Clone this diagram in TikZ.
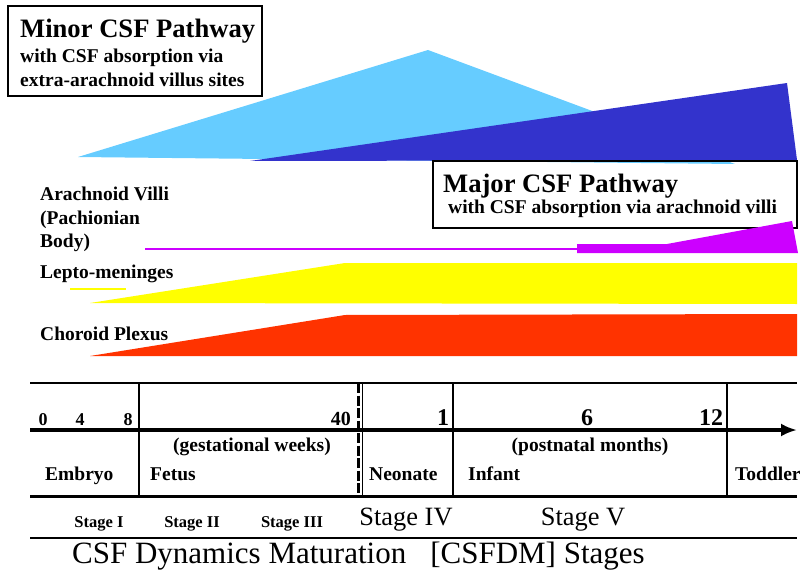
\documentclass[tikz,border=0pt]{standalone}
\usepackage{fontspec}
\setmainfont{Liberation Serif}
\usetikzlibrary{arrows.meta}

\definecolor{skyblue}{HTML}{66CCFF}
\definecolor{deepblue}{HTML}{3333CC}
\definecolor{villi}{HTML}{CC00FF}
\definecolor{lepto}{HTML}{FFFF00}
\definecolor{plexus}{HTML}{FF3300}

\tikzset{
  bigtitle/.style={anchor=base west, font=\fontsize{26.6}{30}\selectfont\bfseries},
  lbl/.style={anchor=base west, font=\fontsize{19.5}{22}\selectfont\bfseries},
  tick/.style={anchor=base, font=\fontsize{18}{20}\selectfont\bfseries},
  bigtick/.style={anchor=base, font=\fontsize{24}{26}\selectfont\bfseries},
  smallstage/.style={anchor=base, font=\fontsize{16.5}{18}\selectfont\bfseries},
  stage/.style={anchor=base, font=\fontsize{26.4}{30}\selectfont},
}

\begin{document}
\begin{tikzpicture}[x=1pt,y=-1pt]
  \tikzstyle{every node}+=[inner sep=0pt]
  \useasboundingbox (0,0) rectangle (802,572);
  % pathways
  \fill [skyblue] (78,157) -- (428,50) -- (735,164) -- cycle;
  \fill [deepblue] (250,161) -- (787,83) -- (797,160) -- cycle;
  \draw [line width=1.5pt] (8,6) rectangle (262,96);
  \node (minor) at (20,37.5) [bigtitle] {Minor CSF Pathway};
  \node (minora) at (20,63) [lbl] {with CSF absorption via};
  \node (minorb) at (20,87) [lbl] {extra-arachnoid villus sites};
  \draw [line width=1.5pt] (433,161) rectangle (797,228);
  \node (major) at (443,193) [bigtitle] {Major CSF Pathway};
  \node (majora) at (448,213) [lbl] {with CSF absorption via arachnoid villi};
  % tissues
  \draw [villi, line width=1.5pt] (145,249) -- (577,249);
  \fill [villi] (577,244) -- (667,244) -- (792,221) -- (798,253) -- (577,253) -- cycle;
  \draw [lepto, line width=1.5pt] (70,289) -- (126,289);
  \fill [lepto] (90,303) -- (345,263) -- (797,263) -- (797,304) -- cycle;
  \fill [plexus] (90,356) -- (345,315) -- (797,314) -- (797,356) -- cycle;
  \node (av) at (40,200) [lbl] {Arachnoid Villi};
  \node (pach) at (40,224) [lbl] {(Pachionian};
  \node (body) at (40,247) [lbl] {Body)};
  \node (lm) at (40,278) [lbl] {Lepto-meninges};
  \node (cp) at (40,340) [lbl] {Choroid Plexus};
  % time line
  \draw [line width=1.5pt] (30,383) -- (797,383);
  \draw [line width=3.5pt, -{Latex[length=16pt,width=13pt]}] (30,430) -- (797,430);
  \draw [line width=3pt] (30,496) -- (797,496);
  \draw [line width=1.5pt] (30,538) -- (797,538);
  \foreach \x in {139,453,727}
    \draw [line width=1.5pt] (\x,383) -- (\x,496);
  \draw [line width=3pt, dash pattern=on 10pt off 2.5pt] (358,383) -- (358,498);
  \draw [line width=0.8pt] (362,383) -- (362,498);
  \node (t0) at (43,425) [tick] {0};
  \node (t4) at (80,425) [tick] {4};
  \node (t8) at (128,425) [tick] {8};
  \node (t40) at (351,425) [tick, anchor=base east, font=\fontsize{20}{22}\selectfont\bfseries] {40};
  \node (m1) at (443,425) [bigtick] {1};
  \node (m6) at (587,425) [bigtick] {6};
  \node (m12) at (711,425) [bigtick] {12};
  \node (gw) at (252,451) [lbl, anchor=base] {(gestational weeks)};
  \node (pm) at (590,451) [lbl, anchor=base] {(postnatal months)};
  \node (embryo) at (45,480) [lbl] {Embryo};
  \node (fetus) at (150,480) [lbl] {Fetus};
  \node (neonate) at (369,480) [lbl] {Neonate};
  \node (infant) at (468,480) [lbl] {Infant};
  \node (toddler) at (735,480) [lbl] {Toddler};
  \node (s1) at (99,527) [smallstage] {Stage I};
  \node (s2) at (192,527) [smallstage] {Stage II};
  \node (s3) at (292,527) [smallstage] {Stage III};
  \node (s4) at (406,525) [stage] {Stage IV};
  \node (s5) at (583,525) [stage] {Stage V};
  \node (csfdm) at (72,563) [stage, anchor=base west, font=\fontsize{31}{34}\selectfont] {CSF Dynamics Maturation\hspace{24pt}[CSFDM] Stages};
\end{tikzpicture}
\end{document}
